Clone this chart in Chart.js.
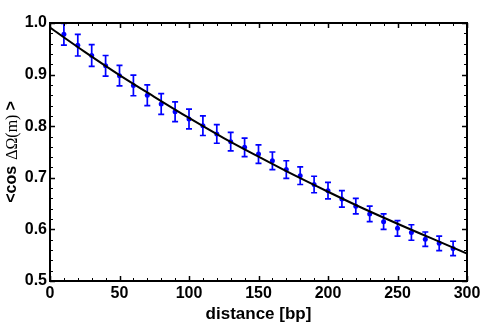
<!DOCTYPE html>
<html>
<head>
<meta charset="utf-8">
<script src="https://cdn.jsdelivr.net/npm/chart.js@4/dist/chart.umd.min.js"></script>
<style>
html,body{margin:0;padding:0;background:#fff;}
#wrap{width:491px;height:328px;}
</style>
</head>
<body>
<div id="wrap"><canvas id="c" width="491" height="328"></canvas></div>
<script>
// ---- data ----
const distances = [10,20,30,40,50,60,70,80,90,100,110,120,130,140,150,160,170,180,190,200,210,220,230,240,250,260,270,280,290];
const cosValues = [0.978,0.957,0.937,0.917,0.898,0.879,0.860,0.843,0.828,0.814,0.801,0.785,0.770,0.759,0.746,0.733,0.716,0.704,0.687,0.675,0.659,0.645,0.630,0.615,0.602,0.594,0.581,0.573,0.563];
const cosErrors = [0.021,0.021,0.021,0.020,0.020,0.020,0.020,0.020,0.019,0.019,0.019,0.018,0.018,0.018,0.018,0.017,0.017,0.017,0.016,0.016,0.016,0.015,0.015,0.015,0.015,0.015,0.014,0.014,0.014];
const fitX = [0,25,50,75,100,125,150,175,200,225,250,275,300];
const fitY = [0.991,0.944,0.899,0.857,0.816,0.777,0.741,0.706,0.673,0.641,0.611,0.582,0.553];
const xTicks = [0,50,100,150,200,250,300];
const yTicks = [0.5,0.6,0.7,0.8,0.9,1.0];
const xMinorStep = 10;
const yMinorStep = 0.02;
const xTitle = 'distance [bp]';
const yTitleParts = ['<cos', 'ΔΩ(m)', '>'];

const BLUE = 'rgb(0,0,255)';
const SANS = '"Liberation Sans", Arial, sans-serif';
const SERIF = '"Liberation Serif", "DejaVu Serif", serif';

const framePlugin = {
  id: 'frame',
  afterDatasetsDraw(chart) {
    const {ctx, chartArea: a, scales: {x, y}} = chart;
    ctx.save();
    ctx.strokeStyle = '#000';
    ctx.lineWidth = 1;
    const drawX = (v, len) => {
      const px = Math.round(x.getPixelForValue(v)) + 0.5;
      ctx.beginPath();
      ctx.moveTo(px, a.bottom); ctx.lineTo(px, a.bottom - len);
      ctx.moveTo(px, a.top); ctx.lineTo(px, a.top + len);
      ctx.stroke();
    };
    const drawY = (v, len) => {
      const py = Math.round(y.getPixelForValue(v)) + 0.5;
      ctx.beginPath();
      ctx.moveTo(a.left, py); ctx.lineTo(a.left + len, py);
      ctx.moveTo(a.right, py); ctx.lineTo(a.right - len, py);
      ctx.stroke();
    };
    for (let v = x.min; v <= x.max + 1e-9; v += xMinorStep) drawX(v, 3);
    for (let i = 0; i <= Math.round((y.max - y.min) / yMinorStep); i++) drawY(y.min + i * yMinorStep, 3);
    ctx.lineWidth = 1.5;
    xTicks.forEach(v => drawX(v, 5));
    yTicks.forEach(v => drawY(v, 5));
    ctx.lineWidth = 2;
    ctx.strokeRect(a.left, a.top, a.right - a.left, a.bottom - a.top);

    // y axis title with mixed fonts, rotated
    const fonts = ['bold 16px ' + SANS, '16px ' + SERIF, 'bold 16px ' + SANS];
    const gaps = [6, 4, 0];
    let widths = yTitleParts.map((t, i) => { ctx.font = fonts[i]; return ctx.measureText(t).width; });
    const total = widths.reduce((s, w) => s + w, 0) + gaps[0] + gaps[1];
    const cy = (a.top + a.bottom) / 2;
    ctx.translate(12, cy);
    ctx.rotate(-Math.PI / 2);
    ctx.fillStyle = '#000';
    ctx.textBaseline = 'middle';
    ctx.textAlign = 'left';
    let pos = -total / 2;
    yTitleParts.forEach((t, i) => {
      ctx.font = fonts[i];
      ctx.fillText(t, pos, i === 1 ? 1 : 0);
      pos += widths[i] + gaps[i];
    });
    ctx.restore();
  }
};

const errorBarPlugin = {
  id: 'errorBars',
  beforeDatasetsDraw(chart) {
    const {ctx, scales: {x, y}} = chart;
    ctx.save();
    ctx.strokeStyle = BLUE;
    ctx.lineWidth = 1.7;
    distances.forEach((d, i) => {
      const px = x.getPixelForValue(d);
      const top = y.getPixelForValue(cosValues[i] + cosErrors[i]);
      const bot = y.getPixelForValue(cosValues[i] - cosErrors[i]);
      ctx.beginPath();
      ctx.moveTo(px, top); ctx.lineTo(px, bot);
      ctx.moveTo(px - 3, top); ctx.lineTo(px + 3, top);
      ctx.moveTo(px - 3, bot); ctx.lineTo(px + 3, bot);
      ctx.stroke();
    });
    ctx.restore();
  }
};

new Chart(document.getElementById('c'), {
  type: 'scatter',
  data: {
    datasets: [
      {
        label: 'data',
        data: distances.map((d, i) => ({x: d, y: cosValues[i]})),
        backgroundColor: BLUE,
        borderColor: BLUE,
        pointRadius: 2.5,
        pointBorderWidth: 0,
        order: 2
      },
      {
        label: 'fit',
        type: 'line',
        data: fitX.map((d, i) => ({x: d, y: fitY[i]})),
        borderColor: '#000',
        borderWidth: 2,
        pointRadius: 0,
        fill: false,
        cubicInterpolationMode: 'monotone',
        order: 1
      }
    ]
  },
  options: {
    responsive: false,
    animation: false,
    devicePixelRatio: 1,
    layout: {padding: {top: 23, right: 24, left: 0, bottom: 0}},
    plugins: {legend: {display: false}, tooltip: {enabled: false}},
    scales: {
      x: {
        type: 'linear', min: 0, max: 300,
        afterBuildTicks(s) { s.ticks = xTicks.map(v => ({value: v})); },
        afterFit(s) { s.height = 47; },
        grid: {display: false, drawTicks: false},
        border: {display: false},
        ticks: {color: '#000', padding: 3, maxRotation: 0, font: {family: SANS, size: 16, weight: 'bold'}},
        title: {display: true, text: xTitle, color: '#000', padding: {top: 0, bottom: 3}, font: {family: SANS, size: 17, weight: 'bold'}}
      },
      y: {
        type: 'linear', min: 0.5, max: 1.0,
        afterBuildTicks(s) { s.ticks = yTicks.map(v => ({value: v})); },
        afterFit(s) { s.width = 50; },
        grid: {display: false, drawTicks: false},
        border: {display: false},
        ticks: {color: '#000', padding: 3, callback: v => v.toFixed(1), font: {family: SANS, size: 16, weight: 'bold'}},
        title: {display: false}
      }
    }
  },
  plugins: [errorBarPlugin, framePlugin]
});
</script>
</body>
</html>
